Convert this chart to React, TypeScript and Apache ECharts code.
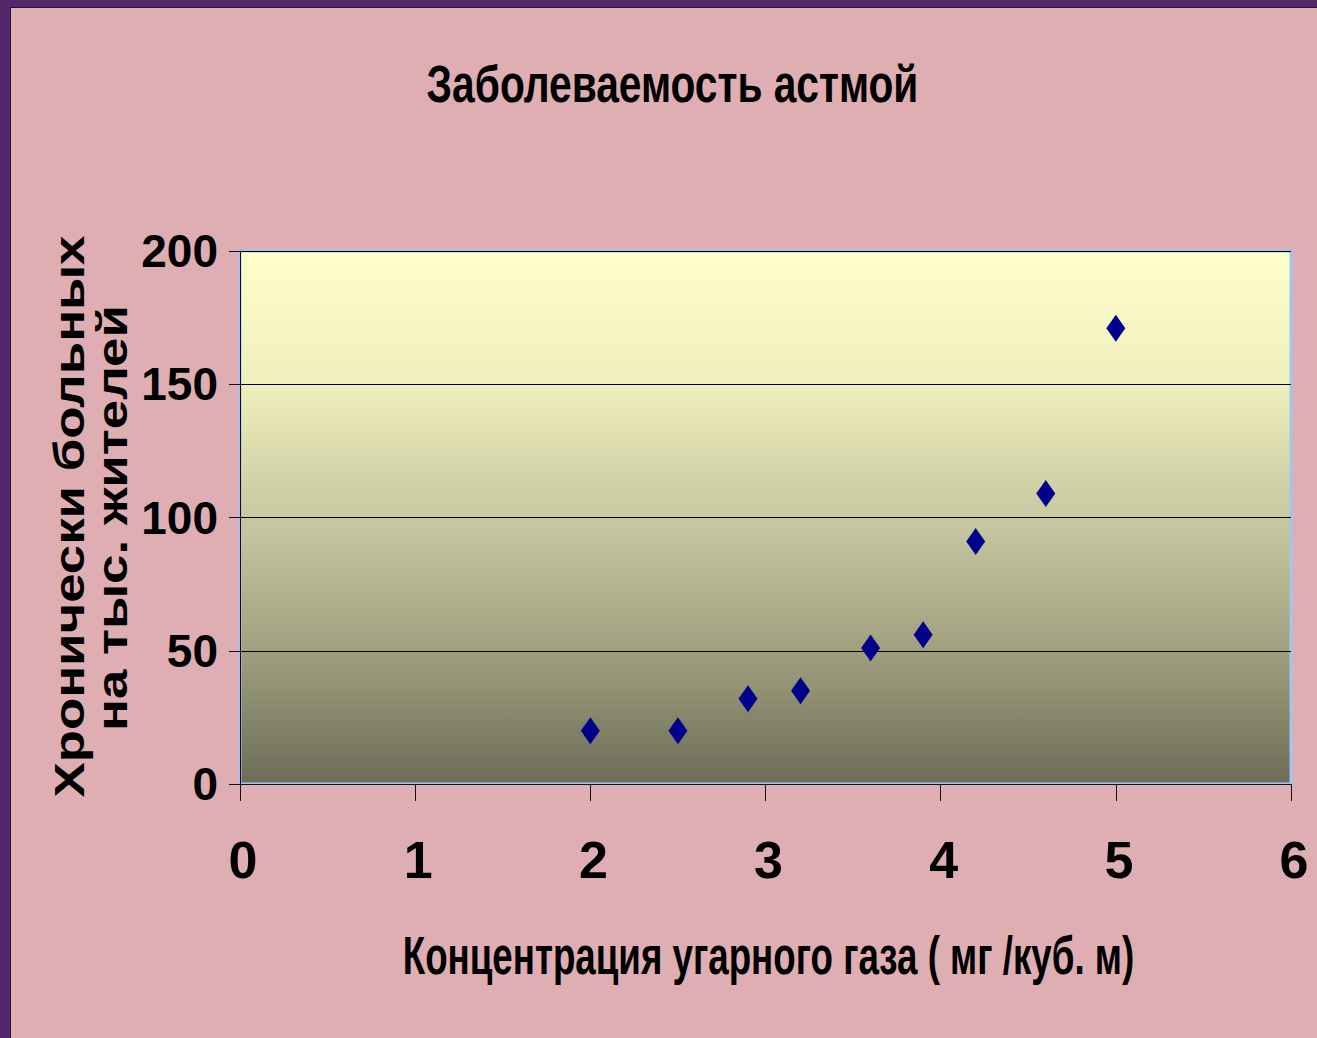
import React, { useEffect, useRef } from "react";
import * as echarts from "echarts";

// ---- data ----
const concentration = [2, 2.5, 2.9, 3.2, 3.6, 3.9, 4.2, 4.6, 5];
const patients = [20, 20, 32, 35, 51, 56, 91, 109, 171];
const titleText = "Заболеваемость астмой";
const xAxisTitle = "Концентрация угарного газа ( мг /куб. м)";
const yAxisTitleLines = ["Хронически больных", "на тыс. жителей"];

const W = 1317;
const H = 1038;
const FAMILY = "Liberation Sans";

function inkWidth(text: string, size: number): number {
  const ctx = document.createElement("canvas").getContext("2d");
  if (!ctx) return text.length * size * 0.55;
  ctx.font = `bold ${size}px "${FAMILY}"`;
  const m = ctx.measureText(text);
  const w = (m.actualBoundingBoxLeft || 0) + (m.actualBoundingBoxRight || 0);
  return w > 0 ? w : m.width;
}

function stretchedText(
  text: string,
  size: number,
  targetWidth: number,
  x: number,
  y: number,
  rotation = 0
) {
  const sx = targetWidth / inkWidth(text, size);
  return {
    type: "text",
    x,
    y,
    rotation,
    scaleX: sx,
    scaleY: 1,
    z: 10,
    style: {
      text,
      fill: "#000000",
      fontSize: size,
      fontWeight: "bold",
      fontFamily: FAMILY,
      align: "center",
      verticalAlign: "middle",
      textAlign: "center",
      textVerticalAlign: "middle",
    },
  };
}

export default function App() {
  const ref = useRef<HTMLDivElement>(null);

  useEffect(() => {
    document.body.style.margin = "0";
    if (!ref.current) return;
    const chart = echarts.init(ref.current, null, { renderer: "svg" });

    const points = concentration.map((c, i) => [c, patients[i]]);

    const option: any = {
      animation: false,
      backgroundColor: "#dfaeb2",
      grid: {
        left: 240,
        top: 251,
        right: 26,
        bottom: 254,
        show: true,
        borderColor: "#a3c4ee",
        borderWidth: 3,
        backgroundColor: new echarts.graphic.LinearGradient(0, 0, 0, 1, [
          { offset: 0, color: "#ffffcc" },
          { offset: 0.25, color: "#efefbd" },
          { offset: 0.5, color: "#c8c8a2" },
          { offset: 0.75, color: "#a0a07f" },
          { offset: 1, color: "#6c6c58" },
        ]),
      },
      xAxis: {
        type: "value",
        min: 0,
        max: 6,
        interval: 1,
        axisLine: { show: true, lineStyle: { color: "#111111", width: 1 } },
        axisTick: { show: true, inside: false, length: 17, lineStyle: { color: "#111111" } },
        splitLine: { show: false },
        axisLabel: {
          margin: 50,
          padding: [0, 0, 0, 6],
          color: "#000000",
          fontSize: 52,
          fontWeight: "bold",
          fontFamily: FAMILY,
        },
      },
      yAxis: {
        type: "value",
        min: 0,
        max: 200,
        interval: 50,
        axisLine: { show: true, lineStyle: { color: "#111111", width: 1 } },
        axisTick: { show: true, inside: false, length: 11, lineStyle: { color: "#111111" } },
        splitLine: { show: true, lineStyle: { color: "#000000", width: 1 } },
        axisLabel: {
          margin: 22,
          color: "#000000",
          fontSize: 46,
          fontWeight: "bold",
          fontFamily: '"Liberation Sans Narrow", "Liberation Sans"',
        },
      },
      series: [
        {
          type: "scatter",
          data: points,
          symbol: "diamond",
          symbolSize: [19, 27],
          itemStyle: { color: "#00008B", opacity: 1 },
        },
      ],
      graphic: [
        { type: "rect", shape: { x: 0, y: 0, width: 11, height: H }, style: { fill: "#52286a" }, z: 20 },
        { type: "rect", shape: { x: 0, y: 0, width: W, height: 8 }, style: { fill: "#52286a" }, z: 20 },
        { type: "rect", shape: { x: 10, y: 8, width: 1, height: H - 8 }, style: { fill: "#2a1530" }, z: 21 },
        { type: "rect", shape: { x: 10, y: 7, width: W - 10, height: 1 }, style: { fill: "#2a1530" }, z: 21 },
        stretchedText(titleText, 52, 489, 672.5, 102 - 0.35 * 52),
        stretchedText(xAxisTitle, 53, 729, 768.5, 975 - 0.35 * 53),
        stretchedText(yAxisTitleLines[0], 42, 563, 84 - 0.35 * 42, 516.5, Math.PI / 2),
        stretchedText(yAxisTitleLines[1], 42, 420, 127 - 0.35 * 42, 518, Math.PI / 2),
      ],
    };

    chart.setOption(option);
    return () => chart.dispose();
  }, []);

  return <div ref={ref} style={{ width: W, height: H }} />;
}
